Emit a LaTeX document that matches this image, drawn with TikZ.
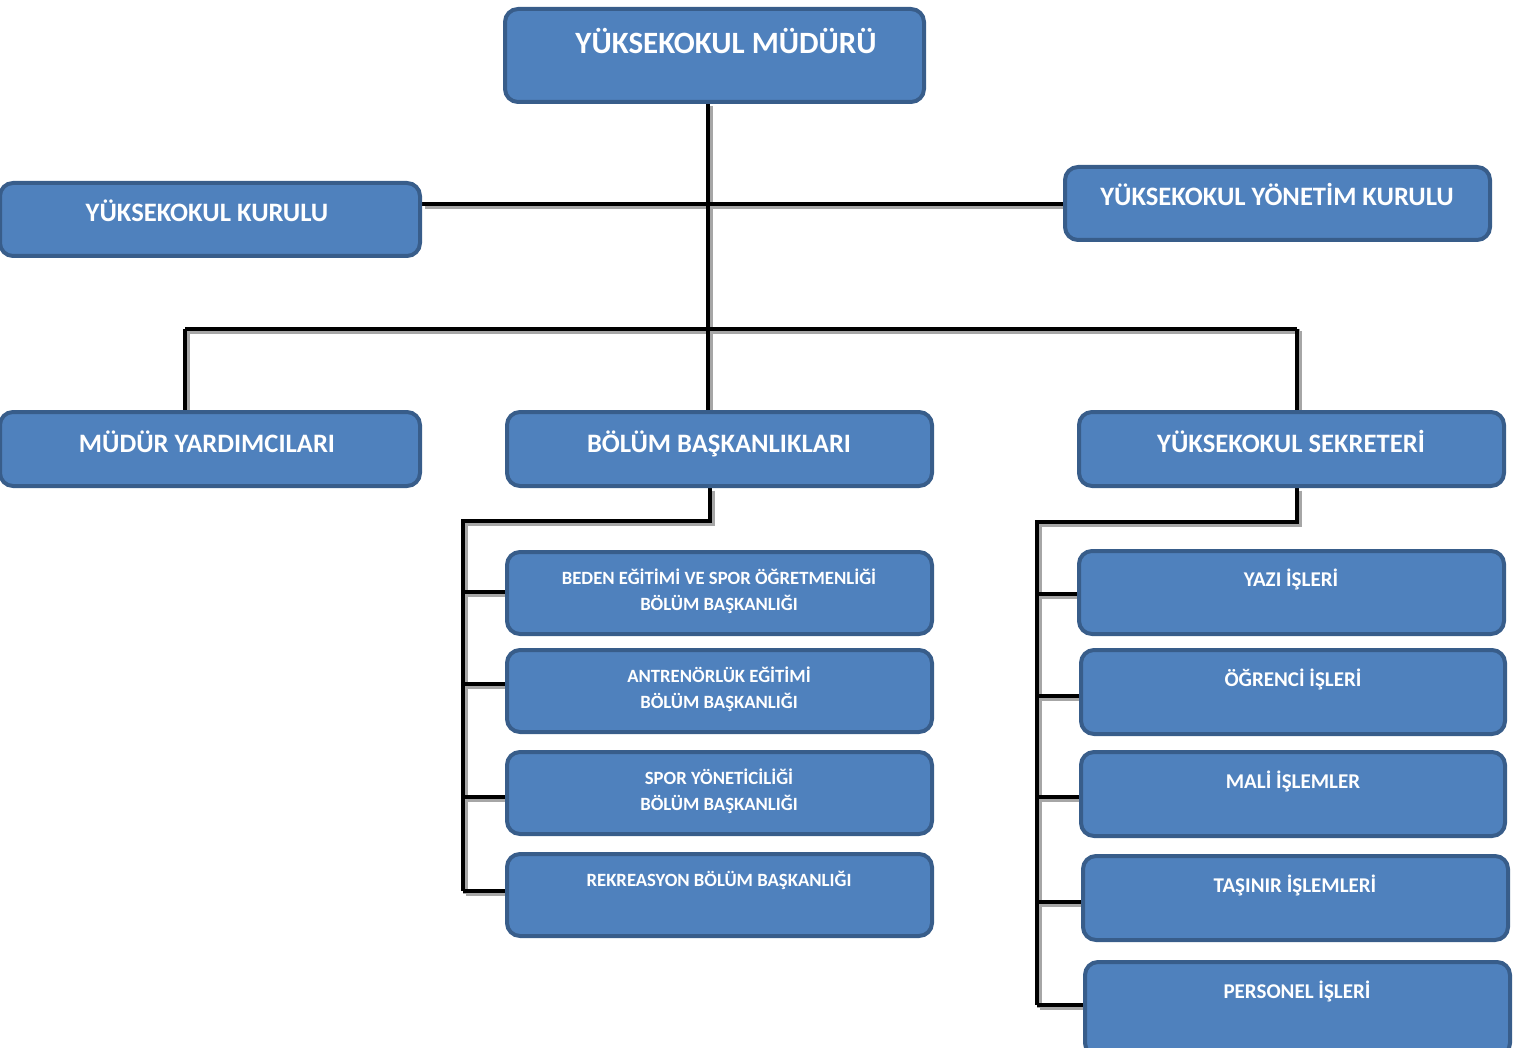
\documentclass[tikz,border=0pt]{standalone}
\usepackage{fontspec}
\setmainfont{Carlito}
\usetikzlibrary{backgrounds}
\definecolor{boxfill}{HTML}{4F81BD}
\definecolor{boxline}{HTML}{385D8A}
\definecolor{shade}{HTML}{A6A6A6}
\tikzset{
  bx/.style={draw=boxline, fill=boxfill, line width=4pt, rounded corners=13pt, inner sep=0pt},
  tbig/.style={text=white, font=\fontsize{31}{36}\selectfont\bfseries, inner sep=0pt, anchor=base},
  tmid/.style={text=white, font=\fontsize{26.6}{30}\selectfont\bfseries, inner sep=0pt, anchor=base},
  tsm/.style={text=white, font=\fontsize{18.7}{26}\selectfont\bfseries, inner sep=0pt, align=center, anchor=north},
  tsr/.style={text=white, font=\fontsize{21}{26}\selectfont\bfseries, inner sep=0pt, align=center, anchor=north},
  link/.style={draw=black, line width=4.5pt},
  linkshadow/.style={draw=shade, line width=4.5pt, transform canvas={xshift=2.5pt, yshift=-2.5pt}}
}
\newcommand{\mybox}[5]{% name, x1, y1, x2, y2
  \node[bx, minimum width=#4-#2-4, minimum height=#5-#3-4] (#1) at ({(#2+#4)/2},{(#3+#5)/2}) {};
}
\begin{document}
\begin{tikzpicture}[x=1pt, y=-1pt]
\useasboundingbox (0,0) rectangle (1528,1048);
% boxes
\mybox{top}{503}{7}{926}{104}
\mybox{kurulu}{-2}{181}{422}{258}
\mybox{yonetim}{1063}{165}{1492}{242}
\mybox{yard}{-2}{410}{422}{488}
\mybox{bolum}{505}{410}{934}{488}
\mybox{sekr}{1077}{410}{1506}{488}
\mybox{b1}{505}{550}{934}{636}
\mybox{b2}{505}{648}{934}{734}
\mybox{b3}{505}{750}{934}{836}
\mybox{b4}{505}{852}{934}{938}
\mybox{s1}{1077}{549}{1506}{636}
\mybox{s2}{1079}{648}{1507}{736}
\mybox{s3}{1079}{750}{1507}{838}
\mybox{s4}{1081}{854}{1510}{942}
\mybox{s5}{1083}{960}{1512}{1058}
% junction coordinates
\coordinate (jl) at (185,329);
\coordinate (jr) at (1297,329);
\coordinate (bl) at (463,521);
\coordinate (br) at (1037,522);
\coordinate (bc) at (710,521);
\coordinate (sc) at (1297,522);
\coordinate (vx) at (708,0);
% connectors (shadow, then line), drawn behind boxes
\begin{scope}[on background layer]
\foreach \s in {linkshadow, link} {
  \draw[\s] (top.south -| vx) -- (bolum.north -| vx);
  \draw[\s] (kurulu.east |- 0,204) -- (yonetim.west |- 0,204);
  \draw[\s] (jl) -- (jr);
  \draw[\s] (yard.north -| jl) -- (jl);
  \draw[\s] (sekr.north -| jr) -- (jr);
  \draw[\s] (bolum.south -| bc) -- (bc) -- (bl) -- (bl |- 0,891);
  \draw[\s] (bl |- 0,592) -- (b1.west |- 0,592);
  \draw[\s] (bl |- 0,684) -- (b2.west |- 0,684);
  \draw[\s] (bl |- 0,797) -- (b3.west |- 0,797);
  \draw[\s] (bl |- 0,891) -- (b4.west |- 0,891);
  \draw[\s] (sekr.south -| sc) -- (sc) -- (br) -- (br |- 0,1005);
  \draw[\s] (br |- 0,594) -- (s1.west |- 0,594);
  \draw[\s] (br |- 0,696) -- (s2.west |- 0,696);
  \draw[\s] (br |- 0,797) -- (s3.west |- 0,797);
  \draw[\s] (br |- 0,902) -- (s4.west |- 0,902);
  \draw[\s] (br |- 0,1005) -- (s5.west |- 0,1005);
}
\end{scope}
% texts
\node[tbig] (ttop) at (726,54) {YÜKSEKOKUL MÜDÜRÜ};
\node[tmid] (tkur) at (207,222) {YÜKSEKOKUL KURULU};
\node[tmid] (tyon) at (1277,206) {YÜKSEKOKUL YÖNETİM KURULU};
\node[tmid] (tyar) at (207,452) {MÜDÜR YARDIMCILARI};
\node[tmid] (tbol) at (719,452) {BÖLÜM BAŞKANLIKLARI};
\node[tmid] (tsek) at (1291,452) {YÜKSEKOKUL SEKRETERİ};
\node[tsm] (tb1) at (719,569) {BEDEN EĞİTİMİ VE SPOR ÖĞRETMENLİĞİ\\BÖLÜM BAŞKANLIĞI};
\node[tsm] (tb2) at (719,667) {ANTRENÖRLÜK EĞİTİMİ\\BÖLÜM BAŞKANLIĞI};
\node[tsm] (tb3) at (719,769) {SPOR YÖNETİCİLİĞİ\\BÖLÜM BAŞKANLIĞI};
\node[tsm] (tb4) at (719,871) {REKREASYON BÖLÜM BAŞKANLIĞI};
\node[tsr] (ts1) at (1291,569) {YAZI İŞLERİ};
\node[tsr] (ts2) at (1293,669) {ÖĞRENCİ İŞLERİ};
\node[tsr] (ts3) at (1293,771) {MALİ İŞLEMLER};
\node[tsr] (ts4) at (1295,875) {TAŞINIR İŞLEMLERİ};
\node[tsr] (ts5) at (1297,981) {PERSONEL İŞLERİ};
\end{tikzpicture}
\end{document}
